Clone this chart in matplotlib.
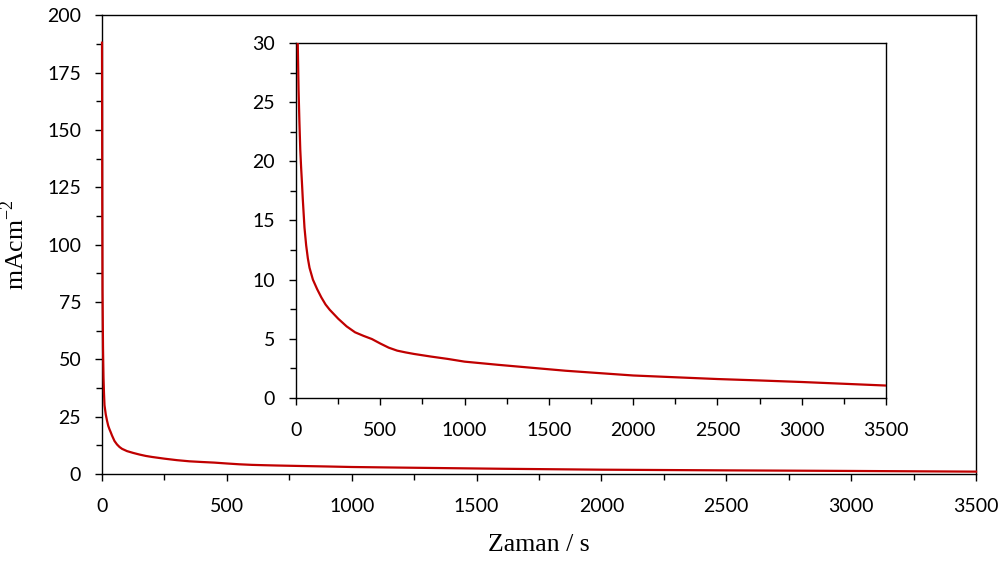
import matplotlib
matplotlib.use('Agg')
import matplotlib.pyplot as plt
from matplotlib.ticker import MultipleLocator

# zaman (s) ve akim yogunlugu (mA/cm2)
zaman = [0, 1, 2, 4, 6, 8, 10, 15, 20, 25, 30, 35, 40, 50, 60, 70, 80, 90, 100, 125, 150,
         175, 200, 250, 300, 350, 400, 450, 500, 550, 600, 650, 700, 800, 900, 1000, 1200,
         1400, 1600, 1800, 2000, 2250, 2500, 2750, 3000, 3250, 3500]
akim = [188, 120, 80, 55, 42, 35, 30, 26, 23.3, 21, 19.5, 18.2, 16.8, 14.4, 12.9, 11.8,
        11.0, 10.5, 10.0, 9.2, 8.5, 7.9, 7.45, 6.7, 6.05, 5.55, 5.25, 4.98, 4.6, 4.25,
        4.0, 3.85, 3.72, 3.5, 3.3, 3.07, 2.8, 2.55, 2.3, 2.1, 1.9, 1.75, 1.6, 1.48, 1.35,
        1.2, 1.05]

renk = '#C00000'
tick_font = 'Lato'

fig = plt.figure(figsize=(10.08, 5.61), dpi=100)
ax = fig.add_axes([0.1012, 0.155, 0.8671, 0.818])
ax.plot(zaman, akim, color=renk, linewidth=1.6, zorder=3, clip_on=False)
ax.set_xlim(0, 3500)
ax.set_ylim(0, 200)
ax.xaxis.set_major_locator(MultipleLocator(500))
ax.xaxis.set_minor_locator(MultipleLocator(250))
ax.yaxis.set_major_locator(MultipleLocator(25))
ax.yaxis.set_minor_locator(MultipleLocator(12.5))
ax.set_xlabel('Zaman / s', fontsize=18.5, family='Liberation Serif', labelpad=14)
ax.set_ylabel(r'mAcm$^{\mathregular{-2}}$', fontsize=18.5, family='Liberation Serif', labelpad=13)

# inset
axi = fig.add_axes([0.2937, 0.2906, 0.5853, 0.6328])
axi.plot(zaman, akim, color=renk, linewidth=1.6, zorder=3)
axi.set_xlim(0, 3500)
axi.set_ylim(0, 30)
axi.xaxis.set_major_locator(MultipleLocator(500))
axi.xaxis.set_minor_locator(MultipleLocator(250))
axi.yaxis.set_major_locator(MultipleLocator(5))
axi.yaxis.set_minor_locator(MultipleLocator(2.5))

for a in (ax, axi):
    for s in a.spines.values():
        s.set_linewidth(1.0)
    a.tick_params(which='major', direction='out', length=5, width=1.0, labelsize=14)
    a.tick_params(which='minor', direction='out', length=4, width=1.0)
    a.tick_params(axis='x', which='major', pad=12)
    a.tick_params(axis='y', which='major', pad=10)
    a.tick_params(top=False, right=False, which='both')
    for lbl in a.get_xticklabels() + a.get_yticklabels():
        lbl.set_family(tick_font)

fig.savefig('out.png', dpi=100)
